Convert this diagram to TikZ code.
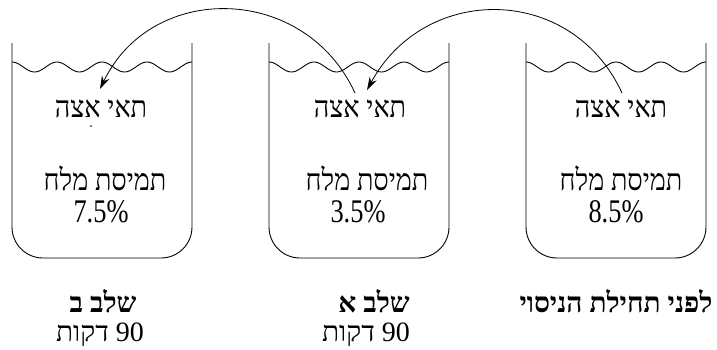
\documentclass[tikz,border=0pt]{standalone}
\usepackage{graphicx}
\usepackage{fontspec}
\usetikzlibrary{arrows.meta}
\setmainfont{Liberation Serif}
\newfontfamily\hebfont[Script=Hebrew]{Liberation Serif}
\TeXXeTstate=1
\newcommand\heb[1]{{\hebfont\beginR #1\endR}}
\newcommand\nar[1]{\scalebox{0.9}[1]{#1}}
\begin{document}
\begin{tikzpicture}[x=1pt,y=-1pt, line width=0.9pt,
  beaker/.style={rounded corners=31pt},
  water/.style={line width=0.9pt},
  lbl/.style={anchor=base, inner sep=0pt, text depth=0pt, font=\fontsize{30}{34}\selectfont},
  pct/.style={anchor=base, inner sep=0pt, font=\fontsize{33}{36}\selectfont},
  mins/.style={anchor=base, inner sep=0pt, font=\fontsize{28}{32}\selectfont},
  stage/.style={anchor=base, inner sep=0pt, font=\bfseries\fontsize{28}{32}\selectfont},
  arr/.style={line width=0.8pt, -{Stealth[length=13pt,width=8pt]}}]
\useasboundingbox (0,0) rectangle (717,349);
% beakers
\foreach \xl in {12,269,526}{
  \draw[beaker] (\xl,43) -- (\xl,258) -- (\xl+180,258) -- (\xl+180,43);
  \draw[water] plot[domain=0:180, samples=121, smooth] ({\xl+\x},{67-5*cos(8*\x)});
}
% texts in beakers
\node[lbl] (c1) at (101,117) {\nar{\heb{תאי אצה}}};
\node[lbl] (c2) at (360,117) {\nar{\heb{תאי אצה}}};
\node[lbl] (c3) at (621,117) {\nar{\heb{תאי אצה}}};
\node[lbl] (s1) at (105,190) {\nar{\heb{תמיסת מלח}}};
\node[lbl] (s2) at (367,190) {\nar{\heb{תמיסת מלח}}};
\node[lbl] (s3) at (621,190) {\nar{\heb{תמיסת מלח}}};
\node[pct] (p1) at (101,222) {\scalebox{0.8}[1]{7.5\%}};
\node[pct] (p2) at (358,222) {\scalebox{0.8}[1]{3.5\%}};
\node[pct] (p3) at (616,222) {\scalebox{0.8}[1]{8.5\%}};
\fill (91,126) circle (0.9pt);
% labels below
\node[stage] (t1) at (103,312) {\heb{שלב ב}};
\node[stage] (t2) at (374,312) {\heb{שלב א}};
\node[stage] (t3) at (616,312) {\heb{לפני תחילת הניסוי}};
\node[mins] (m1) at (100,341) {\heb{90 דקות}};
\node[mins] (m2) at (366,341) {\heb{90 דקות}};
% arrows
\coordinate (a3) at (622,93);
\coordinate (b2) at (367,90);
\coordinate (a2) at (355,93);
\coordinate (b1) at (100,89);
\draw[arr] (a3) .. controls (572,-16) and (425,-17) .. (b2);
\draw[arr] (a2) .. controls (305,-16) and (152,-19) .. (b1);
\end{tikzpicture}
\end{document}
